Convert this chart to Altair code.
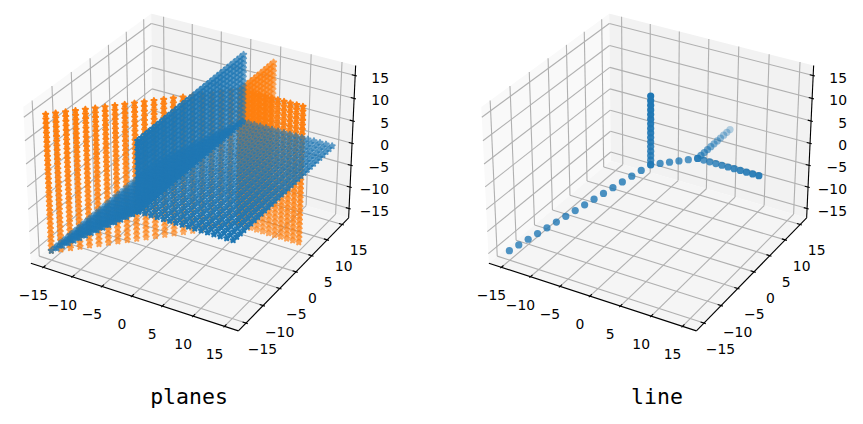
import math
import numpy as np
import pandas as pd
import altair as alt

# ---- data (3D coordinates of the plotted sheets and rays) ----
TICKS = [-15, -10, -5, 0, 5, 10, 15]
TICK_TEXT = ["\u221215", "\u221210", "\u22125", "0", "5", "10", "15"]
GRID = list(range(-15, 16))
NEG = list(range(-15, 1))
POS = list(range(0, 16))
UPPER = list(range(5, 16))
DIAG_O = list(range(-15, 6))
SEGMENT = [1, 2, 3, 4]
TITLES = ["planes", "line"]
BLUE = "#1f77b4"
ORANGE = "#ff7f0e"

blue_pts = (
    [(0, y, z) for y in GRID for z in POS]
    + [(x, y, 0) for y in GRID for x in POS]
    + [(t, y, t) for y in GRID for t in NEG]
)
orange_pts = (
    [(t, t, z) for z in GRID for t in DIAG_O]
    + [(5, y, z) for z in GRID for y in UPPER]
    + [(x, 5, z) for z in GRID for x in UPPER]
)
line_pts = (
    [(t, t, t) for t in NEG]
    + [(0, 0, z) for z in POS]
    + [(t, t, 0) for t in SEGMENT]
    + [(x, 5, 0) for x in UPPER]
    + [(5, y, 0) for y in UPPER]
)

# ---- 3D projection (elev 30, azim -60, box aspect 4:4:3, dist 10) ----
L = 17.1875
aspect = np.array([4.0, 4.0, 3.0])
box = aspect * 1.8294640721620434 * 25 / 24 / np.linalg.norm(aspect)
el, az = math.radians(30), math.radians(-60)
R = box / 2
eye = R + 10 * np.array([math.cos(el) * math.cos(az), math.cos(el) * math.sin(az), math.sin(el)])
w = (eye - R) / np.linalg.norm(eye - R)
u = np.cross([0, 0, 1.0], w)
u = u / np.linalg.norm(u)
v = np.cross(w, u)


def raw(p):
    q = (np.array(p, float) + L) / (2 * L) * box - eye
    d = -q.dot(w)
    return q.dot(u) / d, q.dot(v) / d, d


corners = [((L, -L, -L), 238, 331), ((-L, -L, -L), 31, 263), ((L, L, -L), 349, 218),
           ((L, L, L), 356, 65), ((-L, L, L), 150, 14), ((-L, -L, L), 24, 107)]
ax_ = np.array([[raw(c[0])[0], 1] for c in corners])
ay_ = np.array([[raw(c[0])[1], 1] for c in corners])
sx, tx = np.linalg.lstsq(ax_, np.array([c[1] for c in corners], float), rcond=None)[0]
sy, ty = np.linalg.lstsq(ay_, np.array([c[2] for c in corners], float), rcond=None)[0]
OFFSETS = [0, 458]


def pix(p, off):
    a, b, _ = raw(p)
    return sx * a + tx + off, sy * b + ty


XS = alt.Scale(domain=[8, 855], range=[0, 847], nice=False, zero=False)
YS = alt.Scale(domain=[416, 8], range=[408, 0], nice=False, zero=False)
X = alt.X("x:Q", scale=XS, axis=None)
Y = alt.Y("y:Q", scale=YS, axis=None)


def pane_rows(poly, off):
    pts = [pix(p, off) for p in poly]
    xs = sorted(set(round(p[0], 3) for p in pts))
    rows = []
    for xv in xs:
        hits = []
        for i in range(len(pts)):
            a, b = pts[i], pts[(i + 1) % len(pts)]
            lo, hi = min(a[0], b[0]), max(a[0], b[0])
            if lo - 1e-2 <= xv <= hi + 1e-2:
                if abs(a[0] - b[0]) < 1e-6:
                    hits += [a[1], b[1]]
                else:
                    hits.append(a[1] + (b[1] - a[1]) * (xv - a[0]) / (b[0] - a[0]))
        rows.append({"x": xv, "y": min(hits), "y2": max(hits)})
    return rows


layers = []
grid_rows, axis_rows, label_rows = [], [], []
for off in OFFSETS:
    panes = [
        ([(-L, -L, -L), (-L, L, -L), (-L, L, L), (-L, -L, L)], "#f9f9f9"),
        ([(-L, L, -L), (L, L, -L), (L, L, L), (-L, L, L)], "#f2f2f2"),
        ([(-L, -L, -L), (L, -L, -L), (L, L, -L), (-L, L, -L)], "#f5f5f5"),
    ]
    for poly, col in panes:
        layers.append(
            alt.Chart(pd.DataFrame(pane_rows(poly, off)))
            .mark_area(color=col, opacity=1)
            .encode(x=X, y=Y, y2=alt.Y2("y2:Q"))
        )

    def seg(rows, a, b):
        pa, pb = pix(a, off), pix(b, off)
        rows.append({"x": pa[0], "y": pa[1], "x2": pb[0], "y2": pb[1]})

    for t, txt in zip(TICKS, TICK_TEXT):
        # grid lines on the three back panes
        seg(grid_rows, (t, -L, -L), (t, L, -L))
        seg(grid_rows, (t, L, -L), (t, L, L))
        seg(grid_rows, (L, t, -L), (-L, t, -L))
        seg(grid_rows, (-L, t, -L), (-L, t, L))
        seg(grid_rows, (-L, -L, t), (-L, L, t))
        seg(grid_rows, (-L, L, t), (L, L, t))
        # tick marks
        seg(axis_rows, (t, -L - 0.28, -L), (t, -L + 0.55, -L))
        seg(axis_rows, (L + 0.28, t, -L), (L - 0.55, t, -L))
        seg(axis_rows, (L + 0.28, L, t), (L - 0.55, L, t))
        # tick labels
        px_, py_ = pix((t, -L, -L), off)
        label_rows.append({"x": px_ - 10, "y": py_ + 29, "t": txt, "a": "center"})
        px_, py_ = pix((L, t, -L), off)
        label_rows.append({"x": px_ + 16.5, "y": py_ + 27, "t": txt, "a": "center"})
        px_, py_ = pix((L, L, t), off)
        label_rows.append({"x": off + 389, "y": py_ + 3, "t": txt, "a": "right"})
    seg(axis_rows, (-L, -L, -L), (L, -L, -L))
    seg(axis_rows, (L, -L, -L), (L, L, -L))
    seg(axis_rows, (L, L, -L), (L, L, L))

layers.append(
    alt.Chart(pd.DataFrame(grid_rows)).mark_rule(color="#b0b0b0", strokeWidth=1.1)
    .encode(x=X, y=Y, x2=alt.X2("x2:Q"), y2=alt.Y2("y2:Q"))
)
layers.append(
    alt.Chart(pd.DataFrame(axis_rows)).mark_rule(color="#000000", strokeWidth=1.1)
    .encode(x=X, y=Y, x2=alt.X2("x2:Q"), y2=alt.Y2("y2:Q"))
)


def scatter_frame(points, off):
    rows = []
    for p in points:
        a, b = pix(p, off)
        rows.append({"x": a, "y": b, "d": raw(p)[2]})
    df = pd.DataFrame(rows)
    span = df["d"].max() - df["d"].min()
    df["o"] = 1 - ((df["d"] - df["d"].min()) / span) ** 1.4 * 0.7
    return df.sort_values("d", ascending=False, kind="stable").reset_index(drop=True)


star = []
for i in range(10):
    r = 1.0 if i % 2 == 0 else 0.381966
    ang = math.radians(36 * i)
    star.append(f"{r * math.sin(ang):.4f},{-r * math.cos(ang):.4f}")
STAR = "M" + "L".join(star) + "Z"

OP = alt.Opacity("o:Q", scale=None)
for pts, col in ((orange_pts, ORANGE), (blue_pts, BLUE)):
    layers.append(
        alt.Chart(pd.DataFrame(scatter_frame(pts, OFFSETS[0])))
        .mark_point(shape=STAR, filled=True, fill=col, stroke=col, strokeWidth=2,
                    strokeJoin="round", size=30)
        .encode(x=X, y=Y, opacity=OP)
    )
layers.append(
    alt.Chart(pd.DataFrame(scatter_frame(line_pts, OFFSETS[1])))
    .mark_circle(color=BLUE, size=52)
    .encode(x=X, y=Y, opacity=OP)
)

lab = pd.DataFrame(label_rows)
for al in ("center", "right"):
    layers.append(
        alt.Chart(lab[lab["a"] == al])
        .mark_text(font="DejaVu Sans", fontSize=13.9, color="#000000", align=al, baseline="middle")
        .encode(x=X, y=Y, text="t:N")
    )
titles = pd.DataFrame({"x": [189, 657], "y": [397.5, 397.5], "t": TITLES})
layers.append(
    alt.Chart(titles)
    .mark_text(font="DejaVu Sans Mono", fontSize=21.5, color="#000000", align="center", baseline="middle")
    .encode(x=X, y=Y, text="t:N")
)

chart = (
    alt.layer(*layers)
    .properties(width=847, height=408, padding=0, autosize=alt.AutoSizeParams(type="none"))
    .configure_view(strokeWidth=0)
)
chart.save("out.html", embed_options={"renderer": "svg", "actions": False})
